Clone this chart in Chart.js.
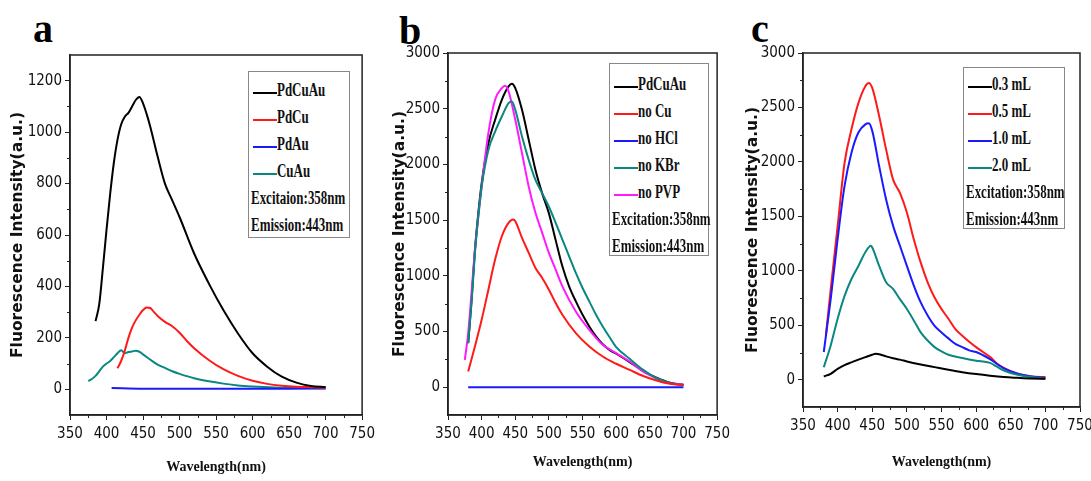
<!DOCTYPE html>
<html lang="en">
<head>
    <meta charset="UTF-8">
    <title>Fluorescence spectra</title>
    <script src="https://cdn.jsdelivr.net/npm/chart.js"></script>
    <style>
        html, body { margin: 0; padding: 0; background: #fff; overflow: hidden; }
        body { width: 1091px; height: 481px; position: relative; }
        .panel { position: absolute; top: 0; }
        .letter { position: absolute; font: bold 40px "Liberation Serif", serif; line-height: 40px; color: #000; }
        .legend { position: absolute; border: 1px solid #888; background: #fff; padding-top: 8px; box-sizing: border-box; }
        .legend .row { height: 27px; line-height: 27px; white-space: nowrap; position: relative; }
        .legend .mark { position: absolute; top: 12px; height: 2px; }
        .legend .txt { position: absolute; display: inline-block; font: bold 18px "Liberation Serif", serif; color: #111; transform: scaleX(0.72); transform-origin: left center; }
    </style>
</head>
<body>
    <div class="letter" style="left:33px;top:9px;">a</div>
    <div class="letter" style="left:399px;top:11px;">b</div>
    <div class="letter" style="left:751px;top:9px;">c</div>

    <canvas class="panel" id="chart-a" width="380" height="481" style="left:0px;"></canvas>
    <canvas class="panel" id="chart-b" width="350" height="481" style="left:385px;"></canvas>
    <canvas class="panel" id="chart-c" width="365" height="481" style="left:738px;"></canvas>

    <div class="legend" id="legend-a" style="left:248px;top:71px;width:102px;height:167px;"></div>
    <div class="legend" id="legend-b" style="left:609px;top:63px;width:100px;height:193px;padding-top:10px;"></div>
    <div class="legend" id="legend-c" style="left:963px;top:67px;width:102px;height:162px;padding-top:6px;"></div>

    <script>
        // panel a
        const aLabels = ['PdCuAu', 'PdCu', 'PdAu', 'CuAu'];
        const aNotes = ['Excitaion:358nm', 'Emission:443nm'];
        const aPdCuAuX = [385, 390, 395, 400, 405, 410, 415, 420, 425, 430, 435, 440, 445, 450, 455, 460, 470, 480, 490, 500, 520, 540, 560, 580, 600, 620, 640, 660, 680, 700];
        const aPdCuAuY = [265, 330, 470, 620, 760, 880, 970, 1030, 1060, 1075, 1100, 1125, 1137, 1112, 1070, 1020, 905, 800, 735, 670, 528, 412, 308, 217, 140, 88, 49, 26, 13, 9];
        const aPdCuX = [415, 420, 425, 430, 435, 440, 445, 450, 455, 460, 465, 470, 480, 490, 500, 510, 520, 540, 560, 580, 600, 620, 640, 660, 680, 700];
        const aPdCuY = [82, 110, 150, 200, 240, 268, 290, 308, 318, 316, 300, 285, 262, 245, 220, 188, 160, 114, 78, 52, 33, 21, 14, 10, 8, 6];
        const aPdAuX = [407, 450, 500, 550, 600, 650, 700];
        const aPdAuY = [5, 2, 2, 2, 2, 2, 3];
        const aCuAuX = [375, 380, 385, 390, 395, 400, 405, 410, 415, 420, 425, 430, 435, 440, 445, 450, 460, 470, 480, 490, 500, 520, 540, 560, 580, 600, 630, 660, 700];
        const aCuAuY = [32, 40, 52, 70, 88, 100, 110, 125, 140, 152, 140, 145, 147, 150, 146, 136, 115, 96, 83, 70, 60, 43, 31, 22, 15, 11, 7, 5, 4];
        const aYTicks = [0, 200, 400, 600, 800, 1000, 1200];
        const aYMinor = [100, 300, 500, 700, 900, 1100];

        // panel b
        const bLabels = ['PdCuAu', 'no Cu', 'no HCl', 'no KBr', 'no PVP'];
        const bNotes = ['Excitation:358nm', 'Emission:443nm'];
        const bPdCuAuX = [380, 385, 390, 395, 400, 410, 420, 430, 440, 445, 450, 460, 470, 480, 490, 500, 510, 520, 530, 540, 550, 560, 570, 580, 590, 600, 620, 640, 660, 680, 700];
        const bPdCuAuY = [395, 780, 1230, 1560, 1830, 2190, 2400, 2580, 2700, 2725, 2685, 2490, 2220, 1950, 1740, 1560, 1320, 1085, 905, 770, 650, 545, 455, 385, 335, 300, 225, 145, 85, 40, 20];
        const bNoCuX = [380, 390, 400, 410, 420, 430, 440, 447, 450, 460, 470, 480, 490, 500, 510, 520, 540, 560, 580, 600, 620, 640, 660, 680, 700];
        const bNoCuY = [140, 365, 605, 875, 1145, 1355, 1475, 1505, 1490, 1340, 1205, 1070, 980, 875, 755, 650, 485, 365, 275, 210, 155, 100, 60, 30, 20];
        const bNoHClX = [380, 450, 500, 550, 600, 650, 700];
        const bNoHClY = [0, 0, 0, 0, 0, 0, 0];
        const bNoKBrX = [380, 385, 390, 395, 400, 410, 420, 430, 440, 445, 450, 460, 470, 480, 490, 500, 510, 520, 530, 540, 550, 560, 570, 580, 590, 600, 620, 640, 660, 680, 700];
        const bNoKBrY = [395, 760, 1200, 1530, 1800, 2130, 2295, 2430, 2550, 2565, 2490, 2250, 2040, 1860, 1740, 1620, 1475, 1325, 1175, 1025, 890, 770, 650, 545, 450, 360, 255, 155, 80, 35, 20];
        const bNoPVPX = [375, 380, 385, 390, 400, 410, 420, 430, 435, 440, 450, 460, 470, 480, 490, 500, 510, 520, 540, 560, 580, 600, 620, 640, 660, 680, 700];
        const bNoPVPY = [245, 485, 850, 1230, 1800, 2280, 2580, 2685, 2705, 2655, 2400, 2100, 1800, 1565, 1385, 1205, 1055, 905, 680, 515, 380, 305, 230, 140, 80, 35, 25];

        // panel c
        const cLabels = ['0.3 mL', '0.5 mL', '1.0 mL', '2.0 mL'];
        const cNotes = ['Excitation:358nm', 'Emission:443nm'];
        const c03X = [380, 390, 400, 410, 420, 430, 440, 450, 455, 460, 470, 480, 490, 500, 520, 540, 560, 580, 600, 620, 640, 660, 680, 700];
        const c03Y = [30, 55, 100, 135, 160, 185, 208, 230, 238, 235, 215, 198, 185, 168, 140, 116, 92, 70, 52, 37, 25, 18, 12, 9];
        const c05X = [383, 390, 400, 410, 420, 430, 440, 445, 450, 460, 470, 480, 490, 500, 510, 520, 530, 540, 550, 560, 570, 580, 590, 600, 610, 620, 630, 640, 660, 680, 700];
        const c05Y = [405, 830, 1410, 1990, 2300, 2540, 2695, 2725, 2680, 2420, 2115, 1840, 1715, 1535, 1290, 1075, 895, 755, 650, 560, 465, 405, 350, 300, 255, 210, 150, 110, 55, 30, 25];
        const c10X = [380, 390, 400, 410, 420, 430, 440, 445, 450, 460, 470, 480, 490, 500, 510, 520, 530, 540, 550, 560, 570, 580, 590, 600, 610, 620, 630, 640, 660, 680, 700];
        const c10Y = [255, 740, 1290, 1780, 2085, 2270, 2345, 2355, 2285, 1960, 1655, 1415, 1230, 1045, 865, 710, 590, 495, 435, 380, 330, 300, 270, 255, 225, 190, 145, 105, 55, 30, 18];
        const c20X = [380, 390, 400, 410, 420, 430, 440, 448, 450, 460, 470, 480, 490, 500, 510, 520, 530, 540, 550, 560, 580, 600, 620, 630, 640, 660, 680, 700];
        const c20Y = [115, 315, 560, 770, 925, 1045, 1170, 1230, 1215, 1045, 895, 835, 740, 650, 545, 435, 360, 300, 260, 230, 200, 175, 155, 120, 85, 45, 25, 10];

        const bcYTicks = [0, 500, 1000, 1500, 2000, 2500, 3000];
        const bcYMinor = [250, 750, 1250, 1750, 2250, 2750];
        const xTicks = [350, 400, 450, 500, 550, 600, 650, 700, 750];
        const xMinor = [375, 425, 475, 525, 575, 625, 675, 725];

        const BLACK = '#000000', RED = '#ff1a1a', BLUE = '#1a1aff', TEAL = '#0a8780', MAGENTA = '#ff1aff';
        const TICK_FONT = { family: '"Liberation Sans Narrow", "DejaVu Sans Condensed", sans-serif', size: 15 };

        function toPoints(xs, ys) {
            return xs.map((x, i) => ({ x: x, y: ys[i] }));
        }

        function series(label, xs, ys, color) {
            return {
                label: label,
                data: toPoints(xs, ys),
                borderColor: color,
                backgroundColor: color,
                borderWidth: 2,
                pointRadius: 0,
                fill: false,
                cubicInterpolationMode: 'monotone'
            };
        }

        const framePlugin = {
            id: 'frame',
            afterDraw(chart, args, opts) {
                const ctx = chart.ctx;
                const a = chart.chartArea;
                const x = chart.scales.x, y = chart.scales.y;
                ctx.save();
                ctx.strokeStyle = '#222';
                ctx.lineWidth = 1.5;
                ctx.strokeRect(a.left, a.top, a.right - a.left, a.bottom - a.top);
                ctx.lineWidth = 1;
                ctx.beginPath();
                opts.xMinor.forEach(v => {
                    const px = Math.round(x.getPixelForValue(v)) + 0.5;
                    ctx.moveTo(px, a.bottom);
                    ctx.lineTo(px, a.bottom + 3);
                });
                opts.yMinor.forEach(v => {
                    const py = Math.round(y.getPixelForValue(v)) + 0.5;
                    ctx.moveTo(a.left - 3, py);
                    ctx.lineTo(a.left, py);
                });
                ctx.stroke();
                ctx.restore();
            }
        };

        function makePanel(id, datasets, p) {
            return new Chart(document.getElementById(id), {
                type: 'line',
                data: { datasets: datasets },
                plugins: [framePlugin],
                options: {
                    responsive: false,
                    animation: false,
                    devicePixelRatio: 1,
                    layout: { padding: { top: p.top, right: p.right, left: 0, bottom: 0 } },
                    plugins: {
                        legend: { display: false },
                        tooltip: { enabled: false },
                        frame: { xMinor: xMinor, yMinor: p.yMinor }
                    },
                    scales: {
                        x: {
                            type: 'linear',
                            min: 350,
                            max: 750,
                            afterBuildTicks: s => { s.ticks = xTicks.map(v => ({ value: v })); },
                            afterFit: s => { s.height = p.xHeight; },
                            grid: { drawOnChartArea: false, drawTicks: true, tickLength: 5, color: '#222', tickWidth: 1 },
                            border: { display: true, color: '#222', width: 1.5 },
                            ticks: { autoSkip: false, maxRotation: 0, color: '#111', font: TICK_FONT, padding: 5, callback: v => String(v) },
                            title: {
                                display: true,
                                text: 'Wavelength(nm)',
                                color: '#111',
                                font: { family: '"Liberation Serif", serif', size: 14, weight: 'bold' },
                                padding: { top: 0, bottom: p.xTitlePad }
                            }
                        },
                        y: {
                            min: p.yMin,
                            max: p.yMax,
                            afterBuildTicks: s => { s.ticks = p.yTicks.map(v => ({ value: v })); },
                            afterFit: s => { s.width = p.yWidth; },
                            grid: { drawOnChartArea: false, drawTicks: true, tickLength: 5, color: '#222', tickWidth: 1 },
                            border: { display: true, color: '#222', width: 1.5 },
                            ticks: { color: '#111', font: TICK_FONT, padding: 3, callback: v => String(v) },
                            title: {
                                display: true,
                                text: 'Fluorescence Intensity(a.u.)',
                                color: '#111',
                                font: { family: '"DejaVu Sans", sans-serif', size: 15.5, weight: 'bold' },
                                padding: { top: p.yTitlePad, bottom: 0 }
                            }
                        }
                    }
                }
            });
        }

        function buildLegend(id, labels, colors, notes) {
            const box = document.getElementById(id);
            labels.forEach((label, i) => {
                const row = document.createElement('div');
                row.className = 'row';
                const mark = document.createElement('span');
                mark.className = 'mark';
                mark.style.left = '4px';
                mark.style.width = '24px';
                mark.style.background = colors[i];
                const txt = document.createElement('span');
                txt.className = 'txt';
                txt.style.left = '28px';
                txt.textContent = label;
                row.appendChild(mark);
                row.appendChild(txt);
                box.appendChild(row);
            });
            notes.forEach(note => {
                const row = document.createElement('div');
                row.className = 'row';
                const txt = document.createElement('span');
                txt.className = 'txt';
                txt.style.left = '2px';
                txt.textContent = note;
                row.appendChild(txt);
                box.appendChild(row);
            });
        }

        makePanel('chart-a', [
            series(aLabels[0], aPdCuAuX, aPdCuAuY, BLACK),
            series(aLabels[1], aPdCuX, aPdCuY, RED),
            series(aLabels[2], aPdAuX, aPdAuY, BLUE),
            series(aLabels[3], aCuAuX, aCuAuY, TEAL)
        ], { top: 55, right: 17, xHeight: 66, yWidth: 70, yMin: -100, yMax: 1300, yTicks: aYTicks, yMinor: aYMinor, xTitlePad: 5, yTitlePad: 9 });

        makePanel('chart-b', [
            series(bLabels[2], bNoHClX, bNoHClY, BLUE),
            series(bLabels[1], bNoCuX, bNoCuY, RED),
            series(bLabels[3], bNoKBrX, bNoKBrY, TEAL),
            series(bLabels[4], bNoPVPX, bNoPVPY, MAGENTA),
            series(bLabels[0], bPdCuAuX, bPdCuAuY, BLACK)
        ], { top: 53, right: 16, xHeight: 66, yWidth: 63, yMin: -250, yMax: 3000, yTicks: bcYTicks, yMinor: bcYMinor, xTitlePad: 10, yTitlePad: 6 });

        makePanel('chart-c', [
            series(cLabels[0], c03X, c03Y, BLACK),
            series(cLabels[3], c20X, c20Y, TEAL),
            series(cLabels[2], c10X, c10Y, BLUE),
            series(cLabels[1], c05X, c05Y, RED)
        ], { top: 53, right: 23, xHeight: 74, yWidth: 65, yMin: -250, yMax: 3000, yTicks: bcYTicks, yMinor: bcYMinor, xTitlePad: 10, yTitlePad: 6 });

        buildLegend('legend-a', aLabels, [BLACK, RED, BLUE, TEAL], aNotes);
        buildLegend('legend-b', bLabels, [BLACK, RED, BLUE, TEAL, MAGENTA], bNotes);
        buildLegend('legend-c', cLabels, [BLACK, RED, BLUE, TEAL], cNotes);
    </script>
</body>
</html>
